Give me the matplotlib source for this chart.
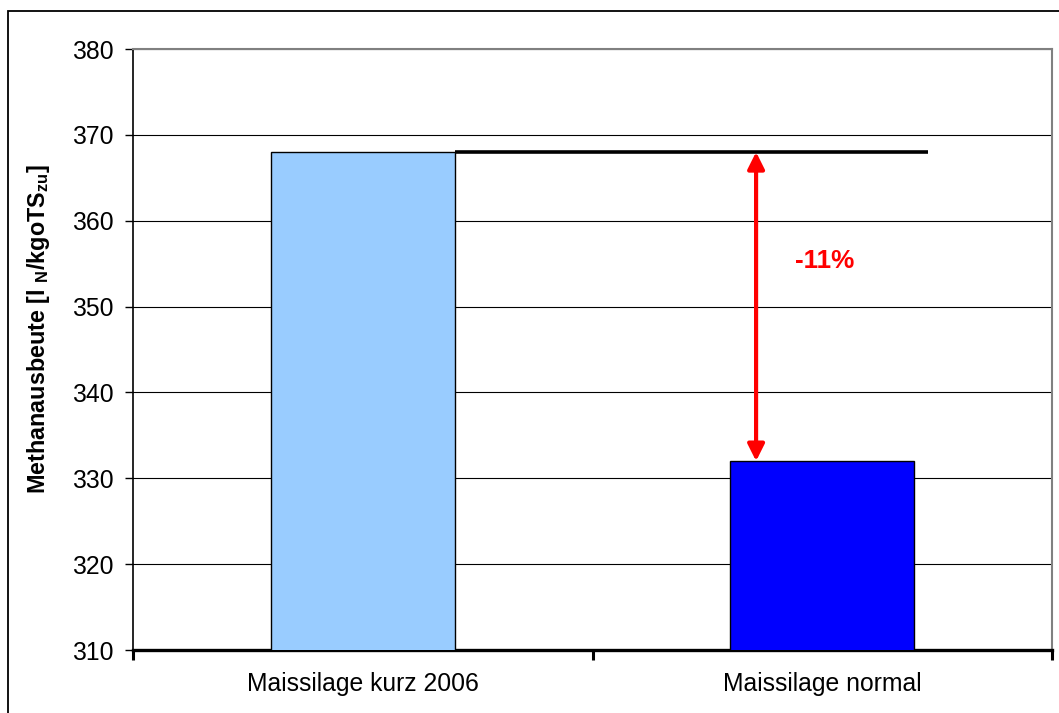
import matplotlib
matplotlib.use("Agg")
import matplotlib.pyplot as plt
from matplotlib.patches import Rectangle

plt.rcParams['font.family'] = ['Liberation Sans', 'DejaVu Sans']
plt.rcParams['mathtext.fontset'] = 'custom'
plt.rcParams['mathtext.rm'] = 'Liberation Sans:bold'
plt.rcParams['mathtext.bf'] = 'Liberation Sans:bold'
plt.rcParams['mathtext.it'] = 'Liberation Sans:bold'

categories = ["Maissilage kurz 2006", "Maissilage normal"]
values = [368, 332]
bar_colors = ["#99CCFF", "#0000FF"]
reference_value = 368
change_label = "-11%"
y_ticks = [310, 320, 330, 340, 350, 360, 370, 380]
y_label = r"Methanausbeute [l $_{\mathrm{N}}$/kgoTS$_{\mathrm{zu}}$]"

fig = plt.figure(figsize=(10.59, 7.13), dpi=100)
ax = fig.add_axes([133/1059, 1-650/713, 919/1059, 601/713])

x = list(range(len(categories)))
ax.bar(x, values, width=0.40, color=bar_colors, edgecolor="black", linewidth=1.0, zorder=3)

ax.set_xlim(-0.5, len(categories) - 0.5)
ax.set_ylim(y_ticks[0], y_ticks[-1])
ax.set_yticks(y_ticks)
ax.yaxis.grid(True, color="black", linewidth=0.8, zorder=0)
ax.set_axisbelow(True)

# category boundary ticks, labels at centres
ax.set_xticks([i - 0.5 for i in range(len(categories) + 1)])
ax.set_xticklabels([])
ax.set_xticks(x, minor=True)
ax.set_xticklabels(categories, minor=True)
ax.tick_params(axis="x", which="major", direction="out", length=7, width=2.2, color="black")
ax.tick_params(axis="x", which="minor", length=0, pad=16, labelsize=17.8)
ax.tick_params(axis="y", direction="out", length=6, width=1.0, pad=8, labelsize=17.8)

for s in ["top", "right"]:
    ax.spines[s].set_color("#808080")
    ax.spines[s].set_linewidth(1.5)
ax.spines["left"].set_linewidth(1.2)
ax.spines["bottom"].set_linewidth(2.4)

ax.set_ylabel(y_label, fontsize=16.8, fontweight="bold")
ax.yaxis.set_label_coords(-0.088, 0.534)

# reference line at first bar's value
ax.plot([0.20, 1.23], [reference_value, reference_value], color="black", linewidth=2.6, zorder=4,
        solid_capstyle="butt")

# double arrow
ax.annotate("", xy=(0.856, values[0]), xytext=(0.856, values[1]),
            arrowprops=dict(arrowstyle="<|-|>", color="red", lw=3, mutation_scale=25,
                            shrinkA=0, shrinkB=0), zorder=5)
ax.text(1.006, 355.3, change_label, color="red", fontsize=18.8, fontweight="bold",
        ha="center", va="center")

# figure border (chart area frame)
fig.add_artist(Rectangle((8/1059, -0.1), 1.2, (1 - 11/713) + 0.1, transform=fig.transFigure,
                         fill=False, edgecolor="black", linewidth=1.3))

fig.savefig("out.png", dpi=100)
